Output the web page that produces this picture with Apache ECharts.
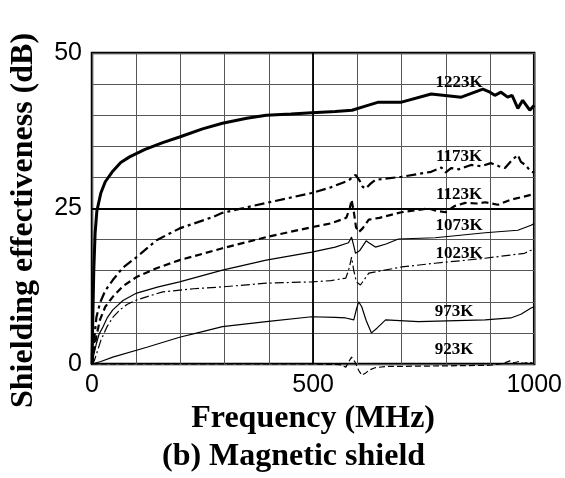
<!DOCTYPE html>
<html><head><meta charset="utf-8">
<script src="https://cdn.jsdelivr.net/npm/echarts@6/dist/echarts.min.js"></script>
<style>html,body{margin:0;padding:0;background:#fff}#c{width:565px;height:478px}</style>
</head><body><div id="c"></div>
<script>
const xTicks = [0, 500, 1000];
const yTicks = [0, 25, 50];
const names = ['1223K','1173K','1123K','1073K','1023K','973K','923K'];
const s1223 = [[0,0],[2,8],[4,15],[7,21],[11,24.6],[20,27.5],[30,29.3],[47,31],[65,32.4],[85,33.3],[120,34.5],[160,35.6],[198,36.5],[250,37.8],[295,38.7],[350,39.5],[394,40],[450,40.2],[497,40.4],[550,40.6],[588,40.8],[620,41.5],[648,42.1],[700,42.1],[767,43.4],[835,42.9],[884,44.2],[900,43.7],[911,43.2],[925,43.7],[940,42.9],[950,43.2],[963,41.1],[974,42.4],[990,40.8],[1000,41.6]];
const s1173 = [[0,0],[5,4],[10,7.5],[18,9.8],[30,11.8],[47,13.5],[70,15.5],[101,17.2],[146,19.9],[198,21.8],[272,23.6],[295,24.3],[394,25.9],[497,27.5],[540,28.4],[580,29.5],[596,30.4],[605,29.5],[612,28.5],[619,28.2],[630,29],[641,29.6],[700,30.1],[767,30.9],[790,31.6],[800,30.8],[812,31.5],[830,31.3],[857,32],[880,31.8],[902,32.3],[920,31.8],[934,31.5],[950,32.8],[963,33.6],[970,32.5],[980,32],[993,30.9],[1000,30.8]];
const s1123 = [[0,0],[5,2.5],[10,4.5],[18,7.1],[30,9.2],[47,10.8],[70,12.5],[101,14],[146,15.4],[198,16.7],[295,18.6],[394,20.4],[497,22],[540,22.6],[575,23.5],[583,25],[587,26.4],[592,24.5],[597,22],[603,21.2],[612,21.8],[626,23.2],[650,23.5],[700,24.4],[761,25],[780,24.6],[799,24.4],[820,25.4],[844,25.9],[870,25.8],[889,26],[918,25.6],[947,26.4],[970,26.8],[993,27.2],[1000,27.3]];
const s1073 = [[0,0],[5,1.8],[10,3.3],[16,4.8],[25,6],[35,7.5],[47,8.7],[70,10.2],[101,11.4],[150,12.4],[198,13.2],[295,15.1],[394,16.7],[497,18],[550,18.8],[580,19.5],[587,20.4],[592,19],[596,17.8],[605,18.2],[620,19.8],[626,19.5],[641,18.8],[665,19.3],[693,20.1],[776,20.3],[889,21.1],[963,21.5],[993,22.3],[1000,22.6]];
const s1023 = [[0,0],[5,0.5],[11,1.8],[20,3.8],[34,6],[47,7.5],[63,8.7],[80,9.6],[101,10.3],[160,11.6],[230,12.1],[295,12.4],[394,13],[497,13.2],[540,13.4],[574,13.8],[582,15.5],[587,17.2],[592,15],[598,13.2],[607,12.7],[615,13.5],[626,14.6],[700,15.6],[776,16.2],[889,17],[978,17.8],[993,18.3],[1000,18.6]];
const s973 = [[0,0],[20,0.4],[47,1.1],[124,2.7],[198,4.3],[250,5.2],[295,6],[394,6.8],[497,7.6],[550,7.5],[574,7.4],[592,7.1],[598,8.8],[603,10],[610,9.2],[620,7],[632,5],[645,5.8],[664,7.1],[738,6.8],[889,7.1],[947,7.4],[970,8],[993,9],[1000,9.2]];
const s923 = [[0,0],[100,0],[500,0],[560,-0.1],[574,-0.5],[580,0.3],[587,1.1],[595,0.3],[603,-1],[610,-1.8],[618,-1.5],[626,-1],[640,-0.6],[664,-0.4],[800,-0.3],[900,-0.2],[930,0.1],[945,0.5],[955,0.2],[965,0.4],[975,0.1],[990,0.3],[1000,0]];
const labelPos = [[830,45.3],[830,33.4],[830,27.3],[830,22.3],[830,17.8],[819,8.4],[819,2.25]];

const data = [s1223,s1173,s1123,s1073,s1023,s973,s923];
const styles = [
  {width:3, type:'solid'},
  {width:2.2, type:[10,4,3,4]},
  {width:2.2, type:[7,4]},
  {width:1.2, type:'solid'},
  {width:1.2, type:[9,3,2,3]},
  {width:1.2, type:'solid'},
  {width:1.2, type:[6,3]}
];
const serif = '"Liberation Serif","DejaVu Serif",serif';
const sans = '"Liberation Sans",Arial,sans-serif';

const series = data.map((d,i)=>({
  type:'line', data:d, showSymbol:false, symbol:'none', clip:false, z: 5,
  lineStyle:{color:'#000', width:styles[i].width, type:styles[i].type},
  markPoint:{symbol:'rect', symbolSize:0, silent:true, data:[{coord:labelPos[i], value:names[i]}],
    label:{show:true, position:'inside', formatter:names[i], color:'#000', fontFamily:serif, fontWeight:'bold', fontSize:17}}
}));
series[0].markLine = {symbol:'none', silent:true, label:{show:false}, lineStyle:{color:'#000', width:1.8, type:'solid'},
  data:[{yAxis:25},{xAxis:500}]};

const chart = echarts.init(document.getElementById('c'));
chart.setOption({
  animation:false,
  backgroundColor:'#fff',
  grid:{left:92, right:29, top:53, bottom:114, show:true, borderColor:'#000', borderWidth:2.5, backgroundColor:'transparent'},
  title:{text:'(b) Magnetic shield', left:157, top:436, textStyle:{fontFamily:serif, fontWeight:'bold', fontSize:32, color:'#000'}},
  xAxis:{type:'value', min:0, max:1000, interval:100,
    name:'Frequency (MHz)', nameLocation:'middle', nameGap:38,
    nameTextStyle:{fontFamily:serif, fontWeight:'bold', fontSize:32, color:'#000'},
    axisLine:{show:false}, axisTick:{show:false},
    axisLabel:{margin:9, fontFamily:sans, fontSize:25, color:'#000', formatter:v=>xTicks.includes(v)?String(v):''},
    splitLine:{show:true, lineStyle:{color:'#555', width:1}}},
  yAxis:{type:'value', min:0, max:50, interval:5,
    name:'Shielding effectiveness (dB)', nameLocation:'middle', nameGap:52, nameRotate:90,
    nameTextStyle:{fontFamily:serif, fontWeight:'bold', fontSize:32, color:'#000', padding:[0,24,0,0]},
    axisLine:{show:false}, axisTick:{show:false},
    axisLabel:{margin:10, fontFamily:sans, fontSize:25, color:'#000', formatter:v=>yTicks.includes(v)?String(v):''},
    splitLine:{show:true, lineStyle:{color:'#555', width:1}}},
  series:series
});
</script></body></html>
